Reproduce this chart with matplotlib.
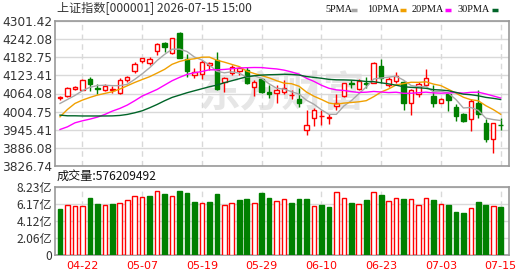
import matplotlib.pyplot as plt
from matplotlib.lines import Line2D
import numpy as np

plt.rcParams['font.family'] = ['Noto Sans CJK SC', 'DejaVu Sans']

title = '上证指数[000001] 2026-07-15 15:00'
vol_title = '成交量:576209492'

opens = [4049.0, 4055.6, 4078.5, 4075.2, 4110.2, 4081.5, 4075.2, 4076.9, 4064.3, 4108.0,
         4138.6, 4171.4, 4164.8, 4204.2, 4230.4, 4195.4, 4261.0, 4175.8, 4124.4, 4126.6,
         4157.2, 4173.6, 4102.5, 4129.9, 4138.6, 4140.8, 4084.0, 4110.2, 4068.7, 4064.3,
         4069.8, 4058.3, 4045.7, 3944.1, 3982.4, 3990.5, 3985.1, 4022.8, 4055.6, 4098.2,
         4077.4, 4098.2, 4099.3, 4153.9, 4091.6, 4105.8, 4102.5, 4031.5, 4062.1, 4091.6,
         4055.6, 4033.7, 4062.1, 4018.4, 3995.5, 3981.3, 4033.7, 3968.1, 3913.5, 3961.6]
highs = [4055.6, 4086.2, 4088.3, 4110.2, 4116.8, 4093.8, 4093.8, 4088.3, 4113.5, 4121.1,
         4168.1, 4181.2, 4182.3, 4230.4, 4233.7, 4246.8, 4265.4, 4193.2, 4146.3, 4173.6,
         4168.1, 4199.8, 4118.9, 4157.2, 4151.7, 4151.7, 4108.0, 4113.5, 4091.6, 4091.6,
         4108.0, 4075.2, 4080.7, 4009.7, 4015.1, 4009.7, 3996.6, 4062.1, 4099.3, 4108.0,
         4110.2, 4116.8, 4165.9, 4176.9, 4118.9, 4135.3, 4104.7, 4077.4, 4102.5, 4143.0,
         4091.6, 4047.9, 4066.5, 4029.3, 4000.9, 4044.6, 4075.2, 3981.3, 3966.0, 3982.4]
lows = [4042.5, 4053.4, 4075.2, 4074.1, 4073.1, 4062.1, 4073.1, 4066.5, 4062.1, 4102.5,
        4132.1, 4164.8, 4157.2, 4190.0, 4200.9, 4194.3, 4180.1, 4116.8, 4113.5, 4110.2,
        4140.8, 4075.2, 4069.8, 4124.4, 4124.4, 4094.9, 4055.6, 4066.5, 4047.9, 4033.7,
        4062.1, 4044.6, 4018.4, 3927.7, 3957.2, 3960.5, 3963.8, 4009.7, 4053.4, 4080.7,
        4075.2, 4080.7, 4097.1, 4099.3, 4086.2, 4097.1, 4009.7, 3993.3, 4053.4, 4089.4,
        4020.6, 4031.5, 4007.5, 3974.7, 3970.3, 3940.8, 3982.4, 3903.7, 3869.8, 3944.1]
closes = [4051.0, 4082.9, 4085.1, 4108.0, 4094.9, 4079.6, 4088.3, 4078.0, 4108.0, 4116.8,
          4160.5, 4179.0, 4177.9, 4226.0, 4217.3, 4244.6, 4181.2, 4138.6, 4135.3, 4168.1,
          4163.7, 4078.5, 4113.5, 4151.7, 4146.3, 4097.1, 4102.5, 4069.8, 4062.1, 4075.2,
          4082.9, 4059.4, 4031.5, 3960.5, 4009.7, 3991.6, 3986.2, 4031.5, 4097.1, 4096.0,
          4105.8, 4096.0, 4162.6, 4113.5, 4110.2, 4121.1, 4031.5, 4075.2, 4093.8, 4113.5,
          4031.5, 4044.6, 4042.5, 3990.0, 3974.7, 4040.3, 3996.6, 3915.7, 3966.0, 3959.4]

# volume in 亿
vols = [5.57, 6.01, 5.89, 5.89, 6.90, 6.17, 6.01, 6.17, 6.29, 6.62,
        7.10, 6.98, 7.14, 7.71, 7.38, 7.10, 7.75, 7.50, 6.41, 6.29,
        6.41, 7.38, 6.05, 6.29, 6.66, 6.78, 6.29, 7.50, 6.90, 6.49,
        6.74, 6.29, 6.78, 6.78, 5.89, 6.05, 5.81, 7.59, 6.86, 6.29,
        6.13, 6.66, 7.59, 7.26, 6.49, 6.86, 6.78, 6.74, 6.01, 6.86,
        6.66, 6.13, 6.05, 5.20, 5.08, 5.65, 6.41, 6.05, 5.93, 5.76]
vol_up = [0, 1, 1, 1, 0, 0, 1, 0, 1, 1, 1, 1, 0, 1, 0, 1, 0, 0, 0, 1,
          0, 0, 1, 1, 0, 0, 1, 0, 0, 1, 1, 0, 0, 0, 1, 0, 0, 1, 1, 0,
          1, 0, 1, 0, 1, 1, 0, 1, 1, 1, 0, 1, 0, 0, 0, 1, 0, 0, 1, 0]

ma5 = [4031.5, 4044.6, 4057.7, 4073.1, 4084.4, 4090.1, 4091.2, 4089.8, 4089.8, 4094.1,
       4110.3, 4128.5, 4148.4, 4172.0, 4192.1, 4209.0, 4209.4, 4201.5, 4183.4, 4173.6,
       4157.4, 4136.8, 4131.8, 4135.1, 4130.7, 4117.4, 4122.2, 4113.5, 4095.6, 4081.3,
       4078.5, 4069.9, 4062.2, 4041.9, 4028.8, 4010.5, 3995.9, 3995.9, 4023.2, 4040.5,
       4063.3, 4085.3, 4111.5, 4114.8, 4117.6, 4120.7, 4107.8, 4090.3, 4086.4, 4087.0,
       4069.1, 4071.7, 4065.2, 4044.4, 4016.7, 4018.4, 4008.8, 3983.5, 3978.7, 3975.6]
ma10 = [3987.8, 4011.9, 4031.5, 4042.5, 4051.2, 4058.8, 4064.3, 4069.8, 4078.5, 4089.3,
        4100.2, 4109.8, 4119.1, 4130.9, 4143.1, 4159.6, 4168.9, 4175.0, 4177.7, 4182.9,
        4183.2, 4173.1, 4166.7, 4159.3, 4152.2, 4137.4, 4129.5, 4122.7, 4115.3, 4106.0,
        4098.0, 4096.1, 4087.9, 4068.7, 4055.1, 4044.5, 4032.9, 4029.1, 4032.6, 4034.6,
        4036.9, 4040.6, 4053.7, 4069.0, 4079.1, 4092.0, 4096.5, 4100.9, 4100.6, 4102.3,
        4094.9, 4089.8, 4077.7, 4065.4, 4051.8, 4043.8, 4040.3, 4024.3, 4011.5, 3996.1]
ma20 = [3946.3, 3955.0, 3968.1, 3974.7, 3980.2, 3986.7, 3995.5, 4006.4, 4015.1, 4026.1,
        4040.3, 4055.6, 4066.5, 4077.4, 4091.6, 4105.8, 4116.8, 4126.6, 4132.1, 4136.1,
        4141.7, 4141.5, 4142.9, 4145.1, 4147.7, 4148.5, 4149.2, 4148.9, 4146.5, 4144.5,
        4140.6, 4134.6, 4127.3, 4114.0, 4103.7, 4091.0, 4081.2, 4075.9, 4074.0, 4070.3,
        4067.5, 4068.4, 4070.8, 4068.9, 4067.1, 4068.3, 4064.7, 4065.0, 4066.6, 4068.5,
        4065.9, 4065.2, 4065.7, 4067.2, 4065.5, 4067.9, 4068.4, 4062.6, 4056.1, 4049.2]
ma30 = [3993.3, 3991.1, 3991.1, 3990.5, 3990.5, 3990.5, 3990.5, 3990.8, 3992.2, 3995.5,
        4000.9, 4007.5, 4017.3, 4028.2, 4040.3, 4051.2, 4058.8, 4066.5, 4073.1, 4079.6,
        4086.2, 4091.6, 4099.3, 4105.8, 4112.4, 4118.9, 4122.2, 4124.4, 4125.5, 4126.1,
        4127.1, 4126.3, 4124.6, 4119.6, 4116.8, 4113.9, 4110.4, 4108.9, 4108.6, 4107.8,
        4106.1, 4103.3, 4102.8, 4099.0, 4095.5, 4091.3, 4086.3, 4084.2, 4082.8, 4081.0,
        4076.6, 4075.5, 4073.1, 4067.7, 4062.0, 4060.1, 4056.6, 4051.4, 4048.3, 4044.3]

price_ticks = [3826.74, 3886.08, 3945.41, 4004.75, 4064.08, 4123.41, 4182.75, 4242.08, 4301.42]
vol_ticks = [0, 2.0575, 4.115, 6.1725, 8.23]
vol_tick_labels = ['0', '2.06亿', '4.12亿', '6.17亿', '8.23亿']
date_pos = [4, 12, 20, 28, 36, 44, 52, 60]
date_labels = ['04-22', '05-07', '05-19', '05-29', '06-10', '06-23', '07-03', '07-15']

ma_names = ['5PMA', '10PMA', '20PMA', '30PMA']
ma_colors = ['#a8a8a8', '#f0a000', '#ff00ff', '#006428']

RED = '#ff0000'
GREEN = '#008000'
BORDER = '#999999'
GRID = '#d9d9d9'
TXT = '#333333'

x = np.arange(1, len(closes) + 1)
o = np.array(opens)
c = np.array(closes)
up = c >= o

fig = plt.figure(figsize=(5.3, 2.76), dpi=100)
ax = fig.add_axes([55 / 530, 1 - 166 / 276, 454 / 530, 145 / 276])
axv = fig.add_axes([55 / 530, 1 - 255 / 276, 454 / 530, 68 / 276])

for a in (ax, axv):
    a.set_xlim(0.33, 61.11)
    for s in a.spines.values():
        s.set_color(BORDER)
        s.set_linewidth(1.2)
    a.set_xticks(date_pos)
    a.tick_params(length=0, labelsize=8.7, colors=TXT, pad=2)
    a.grid(axis='y', color=GRID, lw=1, zorder=0)
    a.grid(axis='x', color=GRID, lw=1, ls=(0, (4, 3)), zorder=0)
    a.set_axisbelow(True)

# watermark
ax.text(0.5, 0.5, '东方财富', transform=ax.transAxes, ha='center', va='center',
        fontsize=30, color='#e6e6e6', fontweight='bold', zorder=0.5)

# candles
col = np.where(up, RED, GREEN)
ax.vlines(x, lows, highs, colors=col, lw=1, zorder=2)
body = np.maximum(np.abs(c - o), 0.8)
ax.bar(x, body, bottom=np.minimum(o, c), width=0.6,
       color=np.where(up, 'white', GREEN), edgecolor=col, lw=1, zorder=3)

for vals, color in zip([ma5, ma10, ma20, ma30], ma_colors):
    ax.plot(x, vals, color=color, lw=1, zorder=4)

ax.set_ylim(price_ticks[0], price_ticks[-1])
ax.set_yticks(price_ticks)
ax.set_yticklabels(['%.2f' % v for v in price_ticks], family=['DejaVu Sans'])
ax.set_xticklabels([])

# volume
vu = np.array(vol_up) == 1
axv.bar(x, vols, width=0.62, color=np.where(vu, 'white', GREEN),
        edgecolor=np.where(vu, RED, GREEN), lw=1, zorder=3)
axv.set_ylim(0, 8.23)
axv.set_yticks(vol_ticks)
axv.set_yticklabels(vol_tick_labels)
axv.set_xticklabels(date_labels, family=['DejaVu Sans'], fontsize=8, color=RED)
axv.tick_params(axis='x', pad=4)

fig.text(57 / 530, 1 - 9 / 276, title, fontsize=8.7, color=TXT, va='center')
fig.text(57 / 530, 1 - 176 / 276, vol_title, fontsize=8.7, color='#111111', va='center')

# legend: name followed by a short colour swatch
leg_x = [325, 367, 412, 458]
sw_x = [351, 400, 445, 492]
for name, color, lx, sx in zip(ma_names, ma_colors, leg_x, sw_x):
    fig.text(lx / 530, 1 - 10 / 276, name, fontsize=7.4, family=['Liberation Serif'],
             color='#111111', va='center')
    fig.add_artist(Line2D([sx / 530, (sx + 6) / 530], [1 - 10 / 276, 1 - 10 / 276],
                          color=color, lw=2.5, solid_capstyle='butt'))

fig.savefig('out.png', dpi=100, facecolor='white')
